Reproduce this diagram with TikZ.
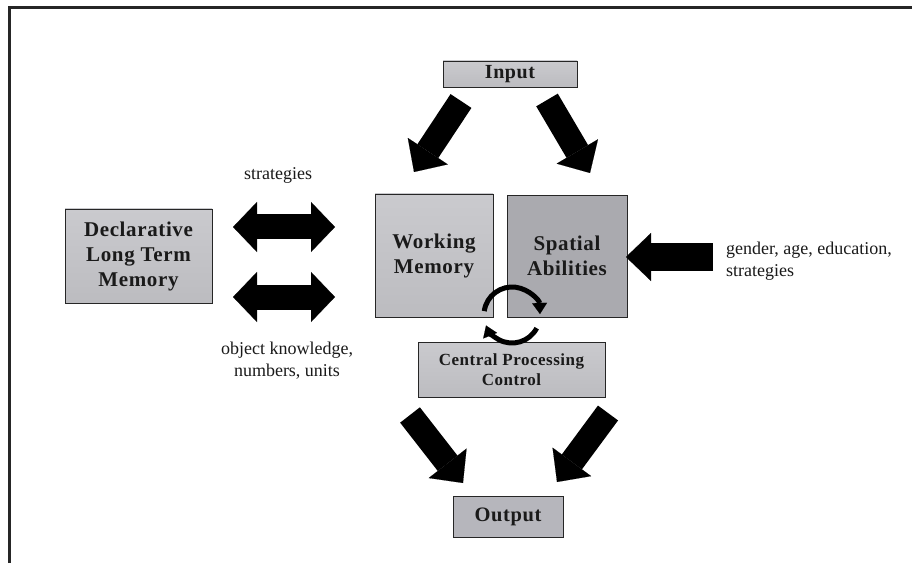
\documentclass[tikz,border=0pt]{standalone}
\usepackage{fontspec}
\setmainfont{Liberation Serif}
\newfontfamily\boxfont[LetterSpace=3]{Liberation Serif}
\usetikzlibrary{arrows.meta,calc}
\definecolor{gtop}{RGB}{202,202,206}
\definecolor{gmid}{RGB}{234,234,236}
\definecolor{gbot}{RGB}{188,188,192}
\definecolor{sagray}{RGB}{170,170,175}
\definecolor{outgray}{RGB}{182,182,188}
\definecolor{txt}{RGB}{26,26,26}
\tikzset{
  boxbase/.style={draw=black!85, line width=0.8pt, align=center, inner sep=0pt,
    text=txt, font=\boxfont\bfseries\fontsize{21}{25}\selectfont},
  gbox/.style={boxbase, top color=gtop, middle color=gmid, bottom color=gbot},
  fbox/.style={boxbase},
  lbl/.style={text=txt, font=\fontsize{18}{22}\selectfont, inner sep=0pt},
  fat/.style={draw=black, line width=25pt,
    -{Triangle[line width=0.1pt, width=48pt, length=25pt]}},
  dfat/.style={draw=black, line width=25pt,
    {Triangle[line width=0.1pt, width=50pt, length=24pt]}-{Triangle[line width=0.1pt, width=50pt, length=24pt]}},
  circarr/.style={draw=black, line width=5pt,
    -{Triangle[line width=0.1pt, width=15pt, length=11pt]}},
}
\begin{document}
\begin{tikzpicture}[x=1pt,y=1pt]
\useasboundingbox (0,0) rectangle (912,563);
\fill[white] (0,0) rectangle (912,563);
% frame
\draw[black!85, line width=3pt] (9,0) -- (9,555) -- (912,555);

% boxes
\node[gbox, minimum width=134pt, minimum height=26pt,
      font=\boxfont\bfseries\fontsize{20}{25}\selectfont] (input) at (510,489) {Input};
\node[gbox, minimum width=118pt, minimum height=123pt] (wm) at (434,307.5) {Working\\Memory};
\node[fbox, fill=sagray, minimum width=120pt, minimum height=122pt] (sa) at (567,307) {Spatial\\Abilities};
\node[gbox, minimum width=187pt, minimum height=55pt,
      font=\boxfont\bfseries\fontsize{17}{20}\selectfont] (cpc) at (511.5,193.5) {Central Processing\\Control};
\node[gbox, minimum width=147pt, minimum height=94pt] (dltm) at (138.5,307) {Declarative\\Long Term\\Memory};
\node[fbox, fill=outgray, minimum width=110pt, minimum height=41pt,
      font=\boxfont\bfseries\fontsize{20.5}{25}\selectfont] (output) at (508,46.5) {Output};

% arrow end points
\coordinate (inLa) at (461,462);
\coordinate (inLb) at (414,391);
\coordinate (inRa) at (547,463);
\coordinate (inRb) at (590,390);
\coordinate (outLa) at (410,148);
\coordinate (outLb) at (463,80);
\coordinate (outRa) at (608,150);
\coordinate (outRb) at (557,81);
\coordinate (d1a) at (233,336);
\coordinate (d1b) at (335,336);
\coordinate (d2a) at (233,266);
\coordinate (d2b) at (335,266);
\coordinate (saA) at (713,306);
\coordinate (saB) at (626,306);
\coordinate (cc) at (512,248);

% fat arrows
\draw[fat] (inLa) -- (inLb);
\draw[fat] (inRa) -- (inRb);
\draw[fat] (outLa) -- (outLb);
\draw[fat] (outRa) -- (outRb);
\draw[dfat] (d1a) -- (d1b);
\draw[dfat] (d2a) -- (d2b);
\draw[fat, line width=27pt] (saA) -- (saB);

% circular arrows
\draw[circarr] ([shift={(172:28)}]cc) arc[start angle=172, end angle=2, radius=28];
\draw[circarr] ([shift={(-28:28)}]cc) arc[start angle=-28, end angle=-158, radius=28];

% labels
\node[lbl] (lstrat) at (278,388) {strategies};
\node[lbl, align=center] (lobj) at (287,202) {object knowledge,\\numbers, units};
\node[lbl, align=left, anchor=west] (lgender) at (726,302) {gender, age, education,\\strategies};
\end{tikzpicture}
\end{document}
